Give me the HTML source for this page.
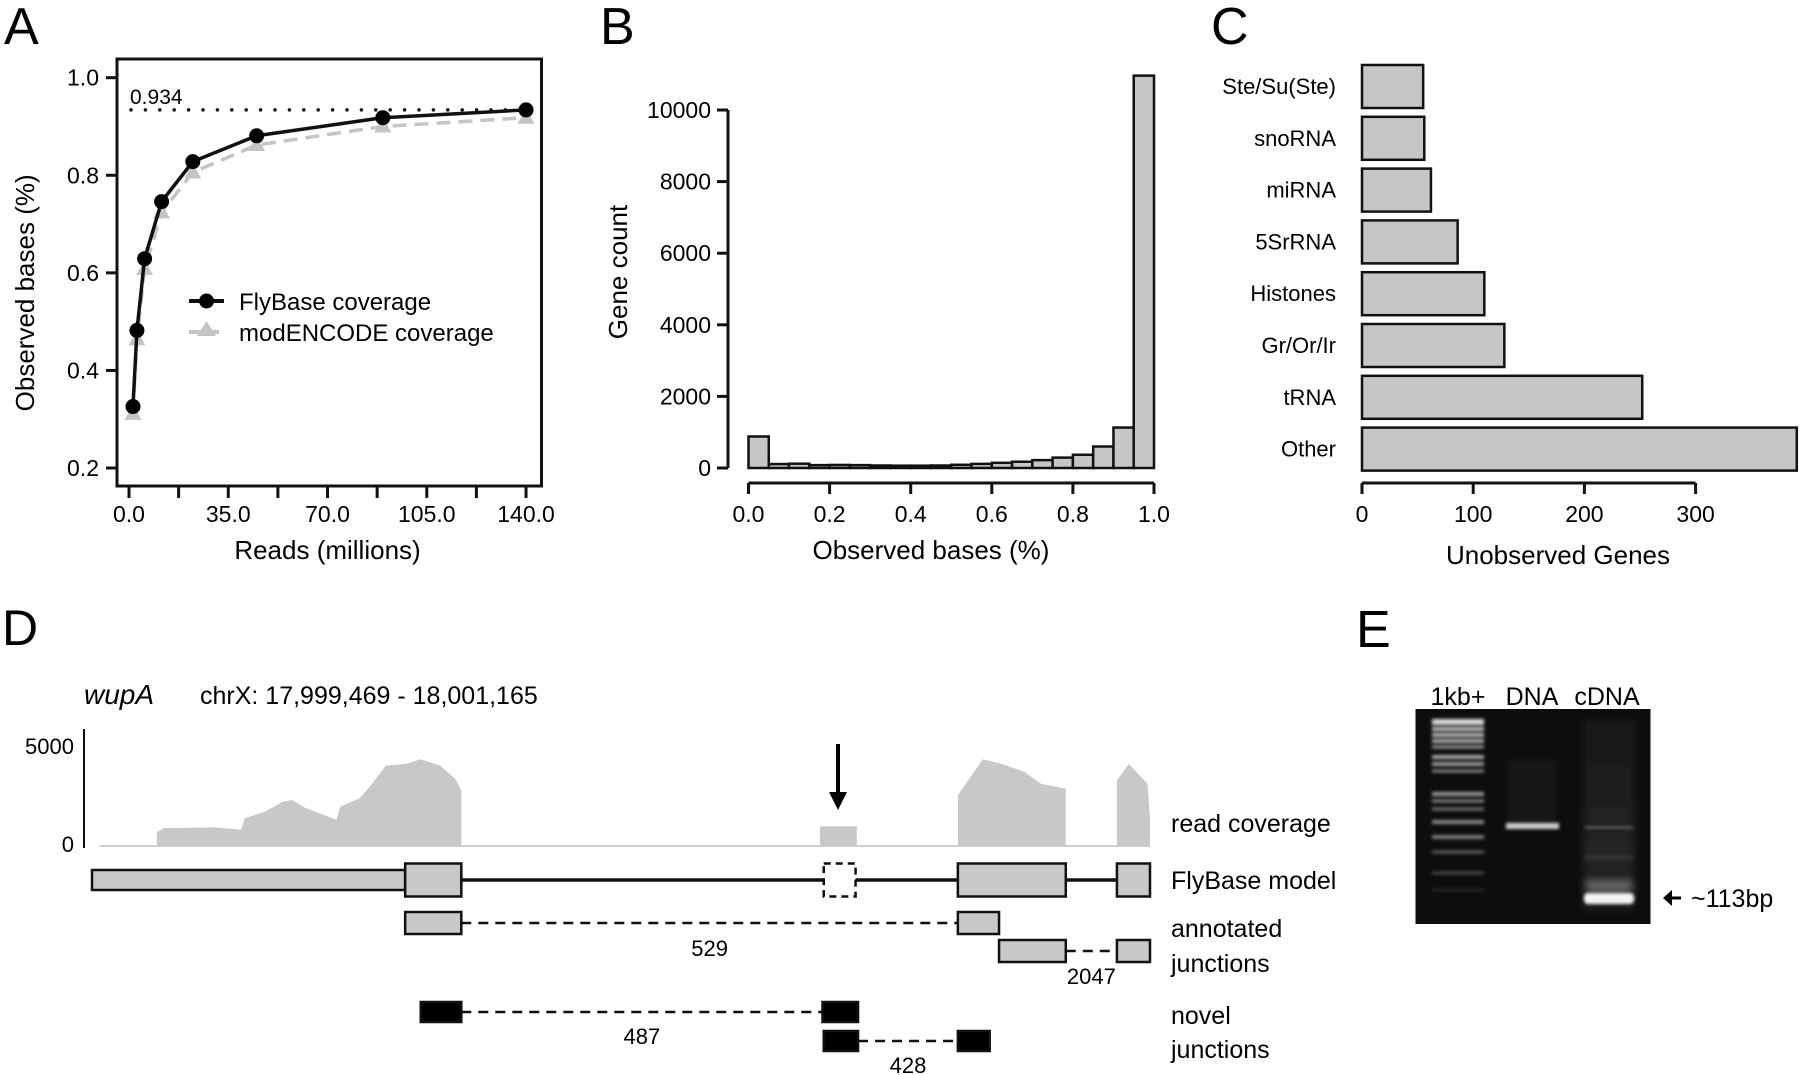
<!DOCTYPE html>
<html><head><meta charset="utf-8"><style>
html,body{margin:0;padding:0;background:#fff}
svg{display:block;font-family:"Liberation Sans",sans-serif}
</style></head><body>
<svg id="fig" width="1800" height="1075" viewBox="0 0 1800 1075" xmlns="http://www.w3.org/2000/svg">
<defs>
<filter id="blur2" x="-20%" y="-50%" width="140%" height="200%"><feGaussianBlur stdDeviation="1.6"/></filter>
<filter id="blur4" x="-20%" y="-50%" width="140%" height="200%"><feGaussianBlur stdDeviation="4"/></filter>
<linearGradient id="smear" x1="0" y1="0" x2="0" y2="1"><stop offset="0" stop-color="#1a1a1a"/><stop offset="0.7" stop-color="#2a2a2a"/><stop offset="1" stop-color="#202020"/></linearGradient>
</defs>
<g id="pA"></g>
<g id="pB"></g>
<g id="pC"></g>
<g id="pD"></g>
<g id="pE"></g>
</svg>
<script>
// ---------- Panel A data ----------
const readsMillions=[1.4,2.8,5.5,11.5,22.5,45,89.5,140];
const flybaseCoverage=[0.326,0.482,0.629,0.746,0.828,0.881,0.918,0.934];
const modencodeCoverage=[0.311,0.464,0.608,0.724,0.806,0.862,0.900,0.918];
const aYTicks=[0.2,0.4,0.6,0.8,1.0];
const aYTickLabels=["0.2","0.4","0.6","0.8","1.0"];
const aXTicks=[0,17.5,35,52.5,70,87.5,105,122.5,140];
const aXLabelTicks=[0,35,70,105,140];
const aXTickLabels=["0.0","35.0","70.0","105.0","140.0"];
const saturationValue=0.934;
// ---------- Panel B data ----------
const histBinStarts=[0,0.05,0.1,0.15,0.2,0.25,0.3,0.35,0.4,0.45,0.5,0.55,0.6,0.65,0.7,0.75,0.8,0.85,0.9,0.95];
const histCounts=[880,110,120,80,85,80,70,65,65,70,90,115,145,175,220,290,370,600,1130,10960];
const bYTicks=[0,2000,4000,6000,8000,10000];
const bXTicks=[0,0.2,0.4,0.6,0.8,1.0];
const bXTickLabels=["0.0","0.2","0.4","0.6","0.8","1.0"];
// ---------- Panel C data ----------
const geneCategories=["Ste/Su(Ste)","snoRNA","miRNA","5SrRNA","Histones","Gr/Or/Ir","tRNA","Other"];
const unobservedCounts=[55,56,62,86,110,128,252,391];
const cXTicks=[0,100,200,300];
// ---------- Panel D data (bp offsets from 17,999,469) ----------
const covPos=[12,104,104,116,135,196,239,245,277,306,321,343,392,398,429,447,471,503,527,558,582,592,592,1167,1167,1226,1226,1388,1388,1428,1459,1496,1521,1561,1561,1643,1643,1662,1692,1696,1696];
const covVal=[0,0,700,900,900,930,820,1390,1720,2210,2300,1890,1310,1970,2380,3030,4020,4100,4340,4020,3360,2790,0,0,980,980,0,0,2540,4340,4100,3690,3110,2870,0,0,3280,4100,3110,1390,0];
const utrRegion=[0,502];
const flybaseExons=[[502,592],[1388,1561],[1643,1696]];
const novelExon=[1173,1224];
const annotatedJunctions=[{a:[502,592],b:[1388,1454],label:"529",row:0},{a:[1454,1561],b:[1643,1696],label:"2047",row:1}];
const novelJunctions=[{a:[527,592],b:[1171,1228],label:"487",row:0},{a:[1173,1228],b:[1388,1439],label:"428",row:1}];

const NS="http://www.w3.org/2000/svg";
function mk(parent,tag,attrs,text){const e=document.createElementNS(NS,tag);for(const k in attrs)e.setAttribute(k,attrs[k]);if(text!==undefined)e.textContent=text;parent.appendChild(e);return e;}

// ================= Panel A =================
(function(){
const g=document.getElementById('pA');
const ax=v=>129+v*2.836, ay=v=>77.7+(1-v)*487.9;
let t=mk(g,'text',{x:4,y:44,'font-size':52},'A');


let r=mk(g,'rect',{x:117,y:59,width:424.5,height:427,fill:'none',stroke:'#111','stroke-width':3});


aYTicks.forEach((v,i)=>{
  let l=mk(g,'line',{x1:106,x2:117,y1:ay(v),y2:ay(v),stroke:'#111','stroke-width':3});
  
  
  let tx=mk(g,'text',{x:99,y:ay(v)+8,'font-size':23,'text-anchor':'end'},aYTickLabels[i]);
  
  
});
aXTicks.forEach(v=>{
  let l=mk(g,'line',{x1:ax(v),x2:ax(v),y1:486,y2:498,stroke:'#111','stroke-width':3});
  
  
});
aXLabelTicks.forEach((v,i)=>{
  let tx=mk(g,'text',{x:ax(v),y:522,'font-size':23,'text-anchor':'middle'},aXTickLabels[i]);
  
  
});
t=mk(g,'text',{x:ax(70),y:559,'font-size':26,'text-anchor':'middle'},'Reads (millions)');


t=mk(g,'text',{x:0,y:0,'font-size':26,'text-anchor':'middle',transform:'translate(34,'+(ay(0.6)+20)+') rotate(-90)'},'Observed bases (%)');


let dl=mk(g,'line',{x1:131,x2:ax(140),y1:ay(saturationValue),y2:ay(saturationValue),stroke:'#111','stroke-width':3.5,'stroke-dasharray':'0 14.4','stroke-linecap':'round'});


t=mk(g,'text',{x:130,y:ay(saturationValue)-6,'font-size':21},'0.934');


let pts=readsMillions.map((x,i)=>ax(x)+','+ay(modencodeCoverage[i])).join(' ');
let pl=mk(g,'polyline',{points:pts,fill:'none',stroke:'#c4c4c4','stroke-width':3.5,'stroke-dasharray':'14 8'});


readsMillions.forEach((x,i)=>{
  const cx=ax(x),cy=ay(modencodeCoverage[i]);
  let p=mk(g,'polygon',{points:(cx)+','+(cy-9)+' '+(cx-8.5)+','+(cy+6)+' '+(cx+8.5)+','+(cy+6),fill:'#c4c4c4'});
  
  
});
pts=readsMillions.map((x,i)=>ax(x)+','+ay(flybaseCoverage[i])).join(' ');
pl=mk(g,'polyline',{points:pts,fill:'none',stroke:'#111','stroke-width':3.5});


readsMillions.forEach((x,i)=>{
  let c=mk(g,'circle',{cx:ax(x),cy:ay(flybaseCoverage[i]),r:7.5,fill:'#000'});
  
  
});
const lg=mk(g,'g',{});


mk(lg,'line',{x1:189,x2:224,y1:301,y2:301,stroke:'#111','stroke-width':4});
mk(lg,'circle',{cx:206.5,cy:301,r:7.5,fill:'#000'});
let le=mk(lg,'text',{x:239,y:310,'font-size':24},'FlyBase coverage');


mk(lg,'line',{x1:189,x2:224,y1:332,y2:332,stroke:'#c4c4c4','stroke-width':4,'stroke-dasharray':'12 6'});
mk(lg,'polygon',{points:'206.5,321 197,336 216,336',fill:'#c4c4c4'});
le=mk(lg,'text',{x:239,y:341,'font-size':24},'modENCODE coverage');


})();

// ================= Panel B =================
(function(){
const g=document.getElementById('pB');
const bx=v=>748.5+v*405.5, by=c=>468-c*0.0358;
let t=mk(g,'text',{x:600,y:44,'font-size':52},'B');


histBinStarts.forEach((s,i)=>{
  let r=mk(g,'rect',{x:bx(s),y:by(histCounts[i]),width:bx(s+0.05)-bx(s),height:by(0)-by(histCounts[i]),fill:'#c6c6c6',stroke:'#111','stroke-width':2.5});
  
  
});
let l=mk(g,'line',{x1:728,x2:728,y1:by(0),y2:by(10000),stroke:'#111','stroke-width':3});


bYTicks.forEach(v=>{
  let tk=mk(g,'line',{x1:717,x2:728,y1:by(v),y2:by(v),stroke:'#111','stroke-width':3});
  
  
  let tx=mk(g,'text',{x:711,y:by(v)+8,'font-size':23,'text-anchor':'end'},String(v));
  
  
});
l=mk(g,'line',{x1:bx(0),x2:bx(1),y1:483,y2:483,stroke:'#111','stroke-width':3});


bXTicks.forEach((v,i)=>{
  let tk=mk(g,'line',{x1:bx(v),x2:bx(v),y1:483,y2:494,stroke:'#111','stroke-width':3});
  
  
  let tx=mk(g,'text',{x:bx(v),y:522,'font-size':23,'text-anchor':'middle'},bXTickLabels[i]);
  
  
});
t=mk(g,'text',{x:bx(0.45),y:559,'font-size':26,'text-anchor':'middle'},'Observed bases (%)');


t=mk(g,'text',{x:0,y:0,'font-size':26,'text-anchor':'middle',transform:'translate(627,272) rotate(-90)'},'Gene count');


})();

// ================= Panel C =================
(function(){
const g=document.getElementById('pC');
const cx=v=>1362+v*1.112;
let t=mk(g,'text',{x:1211,y:44,'font-size':52},'C');


geneCategories.forEach((c,i)=>{
  const top=65+i*51.8;
  let r=mk(g,'rect',{x:cx(0),y:top,width:cx(unobservedCounts[i])-cx(0),height:43,fill:'#c6c6c6',stroke:'#111','stroke-width':2.5});
  
  
  let tx=mk(g,'text',{x:1336,y:top+29,'font-size':22,'text-anchor':'end'},c);
  
  
});
let l=mk(g,'line',{x1:cx(0),x2:cx(300),y1:483,y2:483,stroke:'#111','stroke-width':3});


cXTicks.forEach(v=>{
  let tk=mk(g,'line',{x1:cx(v),x2:cx(v),y1:483,y2:494,stroke:'#111','stroke-width':3});
  
  
  let tx=mk(g,'text',{x:cx(v),y:522,'font-size':23,'text-anchor':'middle'},String(v));
  
  
});
t=mk(g,'text',{x:1558,y:564,'font-size':26,'text-anchor':'middle'},'Unobserved Genes');


})();

// ================= Panel D =================
(function(){
const g=document.getElementById('pD');
const gx=p=>92+p*(1058/1696), gy=v=>846-v*0.02;
let t=mk(g,'text',{x:2,y:645,'font-size':50},'D');


t=mk(g,'text',{x:84,y:704,'font-size':28,'font-style':'italic'},'wupA');


t=mk(g,'text',{x:200,y:704,'font-size':25},'chrX: 17,999,469 - 18,001,165');


let base=mk(g,'line',{x1:gx(12),x2:gx(1696),y1:gy(0),y2:gy(0),stroke:'#cfcfcf','stroke-width':2});


let pts=covPos.map((p,i)=>gx(p)+','+gy(covVal[i])).join(' ');
let cov=mk(g,'polygon',{points:pts,fill:'#c8c8c8'});


let l=mk(g,'line',{x1:84,x2:84,y1:729,y2:848,stroke:'#111','stroke-width':2});


t=mk(g,'text',{x:74,y:754,'font-size':22,'text-anchor':'end'},'5000');


t=mk(g,'text',{x:74,y:852,'font-size':22,'text-anchor':'end'},'0');


const ag=mk(g,'g',{});


mk(ag,'line',{x1:838,x2:838,y1:744,y2:800,stroke:'#000','stroke-width':4});
mk(ag,'polygon',{points:'829,792 847,792 838,810',fill:'#000'});
const my=880;
let ln=mk(g,'line',{x1:gx(592),x2:gx(1643),y1:my,y2:my,stroke:'#111','stroke-width':3.5});


let r=mk(g,'rect',{x:gx(utrRegion[0]),y:my-10,width:gx(utrRegion[1])-gx(utrRegion[0]),height:20,fill:'#c8c8c8',stroke:'#111','stroke-width':2.5});


flybaseExons.forEach(e=>{
  let b=mk(g,'rect',{x:gx(e[0]),y:my-16.5,width:gx(e[1])-gx(e[0]),height:33,fill:'#c8c8c8',stroke:'#111','stroke-width':2.5});
  
  
});
let wb=mk(g,'rect',{x:gx(novelExon[0]),y:my-16.5,width:gx(novelExon[1])-gx(novelExon[0]),height:33,fill:'#fff',stroke:'#111','stroke-width':2.5,'stroke-dasharray':'7 5'});


function junction(j,y0,h,fill,name){
  const y=y0+j.row*((name==='annotated')?28:29);
  let d=mk(g,'line',{x1:gx(j.a[1]),x2:gx(j.b[0]),y1:y+h/2,y2:y+h/2,stroke:'#111','stroke-width':2.5,'stroke-dasharray':'10 7'});
  
  
  [j.a,j.b].forEach(e=>{
    let b=mk(g,'rect',{x:gx(e[0]),y:y,width:gx(e[1])-gx(e[0]),height:h,fill:fill,stroke:'#111','stroke-width':2.5});
    
    
  });
  const mid=(gx(j.a[1])+gx(j.b[0]))/2;
  let tx=mk(g,'text',{x:mid,y:y+h+22,'font-size':22,'text-anchor':'middle'},j.label);
  
  
}
annotatedJunctions.forEach(j=>junction(j,912,22,'#c8c8c8','annotated'));
novelJunctions.forEach(j=>junction(j,1002,20,'#000','novel'));
const labels=[["read coverage",832],["FlyBase model",889],["annotated",937],["junctions",972],["novel",1024],["junctions",1058]];
labels.forEach(([s,y])=>{
  let tx=mk(g,'text',{x:1171,y:y,'font-size':25},s);
  
  
});
})();

// ================= Panel E =================
(function(){
const g=document.getElementById('pE');
let t=mk(g,'text',{x:1356,y:647,'font-size':52},'E');


[["1kb+",1458],["DNA",1532],["cDNA",1607]].forEach(([s,x])=>{
  let tx=mk(g,'text',{x:x,y:705,'font-size':25,'text-anchor':'middle'},s);
  
  
});
let r=mk(g,'rect',{x:1415.5,y:709,width:235,height:215,fill:'#0d0d0d'});


mk(g,'rect',{x:1508,y:760,width:48,height:65,fill:'#1e1e1e',filter:'url(#blur4)',opacity:0.7});
mk(g,'rect',{x:1583,y:720,width:52,height:190,fill:'url(#smear)',filter:'url(#blur4)',opacity:0.8});
const ladder=[[722,6,'#d8d8d8'],[729,4,'#c0c0c0'],[735,4,'#b8b8b8'],[741,4,'#aaa'],[747,3,'#999'],[757,4,'#aaa'],[764,4,'#999'],[771,3,'#888'],[794,4,'#999'],[801,3,'#888'],[809,3,'#777'],[822,4,'#888'],[837,4,'#7a7a7a'],[852,3,'#606060'],[873,3,'#4a4a4a'],[890,2,'#333']];
const lg=mk(g,'g',{filter:'url(#blur2)'});


ladder.forEach(([y,h,c])=>mk(lg,'rect',{x:1432,y:y-h/2,width:52,height:h,fill:c}));
let b=mk(g,'rect',{x:1506,y:823,width:53,height:6,fill:'#d0d0d0',filter:'url(#blur2)'});


mk(g,'rect',{x:1585,y:826,width:48,height:3,fill:'#555',filter:'url(#blur2)'});
mk(g,'rect',{x:1585,y:855,width:48,height:5,fill:'#333',filter:'url(#blur2)'});
mk(g,'rect',{x:1586,y:880,width:46,height:12,fill:'#666',filter:'url(#blur4)'});
b=mk(g,'rect',{x:1584,y:893,width:50,height:11,rx:4,fill:'#f4f4f4',filter:'url(#blur2)'});


const ar=mk(g,'g',{});


mk(ar,'line',{x1:1667,x2:1681,y1:898,y2:898,stroke:'#000','stroke-width':3});
mk(ar,'polygon',{points:'1663,898 1672,890 1672,906',fill:'#000'});
t=mk(g,'text',{x:1691,y:907,'font-size':25},'~113bp');


})();
</script>
</body></html>
